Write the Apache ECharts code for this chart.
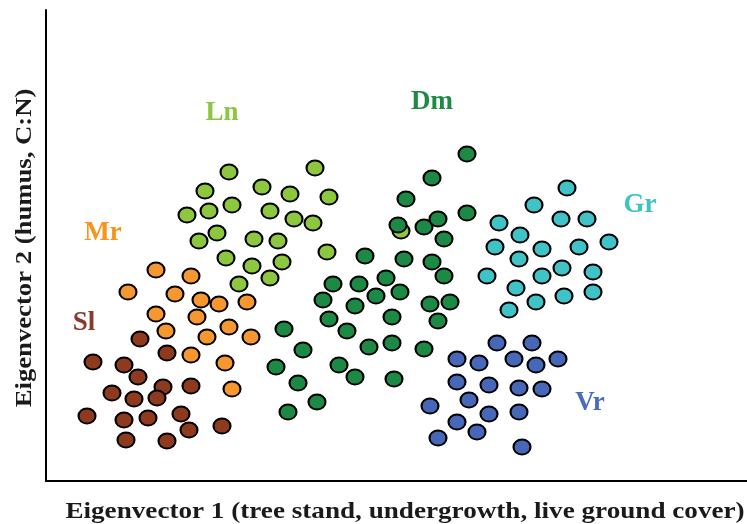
<!DOCTYPE html>
<html><head><meta charset="utf-8">
<script src="https://cdn.jsdelivr.net/npm/echarts@6/dist/echarts.min.js"></script>
<style>html,body{margin:0;padding:0;background:#fff}#c{width:747px;height:524px}</style>
</head><body><div id="c"></div>
<script>
const groupNames = ['Sl','Mr','Ln','Dm','Gr','Vr'];
const Sl = [[94,142],[121,128],[47,119],[78,116],[92,104],[117,94],[145,95],[66,88],[88,82],[111,83],[41,65],[78,61],[102,63],[135,67],[176,55],[143,51],[80,41],[121,40]];
const Mr = [[110,211],[145,205],[82,189],[129,187],[155,181],[173,177],[201,179],[110,167],[151,164],[120,150],[161,144],[183,154],[205,144],[145,126],[179,118],[186,92]];
const Ln = [[183,309],[269,313],[159,290],[216,294],[244,287],[283,284],[141,266],[163,270],[186,276],[224,270],[248,262],[267,258],[171,248],[153,240],[208,242],[232,240],[281,229],[180,223],[206,215],[236,219],[193,197],[224,203],[355,250]];
const Dm = [[421,327],[386,303],[360,282],[421,268],[352,256],[378,254],[392,262],[398,242],[319,225],[358,222],[386,219],[398,205],[287,197],[313,197],[340,203],[330,185],[354,189],[277,181],[309,175],[384,177],[404,179],[283,162],[346,164],[392,160],[301,150],[238,152],[257,131],[323,134],[346,138],[378,132],[230,114],[293,116],[309,104],[348,102],[252,98],[271,79],[242,69]];
const Gr = [[521,293],[488,276],[515,262],[541,262],[453,258],[474,246],[563,239],[449,234],[496,232],[533,234],[473,222],[516,213],[441,205],[496,205],[547,209],[470,193],[518,185],[547,189],[490,179],[463,171]];
const Vr = [[451,138],[486,138],[411,122],[433,118],[468,122],[490,116],[512,122],[411,99],[443,96],[473,93],[496,92],[384,75],[423,81],[443,67],[473,69],[411,59],[431,49],[392,43],[476,34]];
const labelPos = {Sl:[38,158], Mr:[57,248], Ln:[176,368], Dm:[386,379], Gr:[594,276], Vr:[544,78]};
const xTitle = 'Eigenvector 1 (tree stand, undergrowth, live ground cover)';
const yTitle = 'Eigenvector 2 (humus, C:N)';

const fill = {Sl:'#8E3A1F', Mr:'#F7972F', Ln:'#8DC63F', Dm:'#1C8A45', Gr:'#40C3C6', Vr:'#4768B8'};
const txt = {Sl:'#8B3A2A', Mr:'#F7941D', Ln:'#8DC63F', Dm:'#1E8B45', Gr:'#3CC4C4', Vr:'#4A6CC0'};
const data = {Sl, Mr, Ln, Dm, Gr, Vr};
const order = ['Ln','Mr','Sl','Dm','Gr','Vr'];

const series = order.map(n => ({
  name: n, type: 'scatter', data: data[n], symbol: 'circle', symbolSize: [17, 15],
  itemStyle: {color: fill[n], borderColor: '#000', borderWidth: 2, opacity: 1},
  emphasis: {disabled: true}, z: 2
}));
series.push({
  type: 'scatter', symbolSize: 0, silent: true, z: 3,
  itemStyle: {opacity: 1},
  data: groupNames.map(n => ({value: labelPos[n], name: n,
    label: {show: true, position: 'inside', formatter: n, color: txt[n], opacity: 1,
      fontFamily: 'Liberation Serif', fontWeight: 'bold', fontSize: 27}}))
});

const titleStyle = {fontFamily: 'Liberation Serif', fontWeight: 'bold', fontSize: 23, fill: '#1a1a1a', align: 'center', verticalAlign: 'middle'};

const chart = echarts.init(document.getElementById('c'), null, {renderer: 'canvas'});
chart.setOption({
  animation: false,
  backgroundColor: '#fff',
  grid: {left: 46, right: 0, top: 10, bottom: 43, containLabel: false, outerBoundsMode: 'none'},
  xAxis: {type: 'value', min: 0, max: 701,
    axisLine: {show: true, lineStyle: {color: '#000', width: 2}}, axisTick: {show: false},
    axisLabel: {show: false}, splitLine: {show: false}},
  yAxis: {type: 'value', min: 0, max: 471,
    axisLine: {show: true, lineStyle: {color: '#000', width: 2}}, axisTick: {show: false},
    axisLabel: {show: false}, splitLine: {show: false}},
  graphic: [
    {type: 'text', x: 405, y: 512, scaleX: 1.18, scaleY: 1, silent: true,
      style: Object.assign({text: xTitle}, titleStyle)},
    {type: 'text', x: 25, y: 248, rotation: Math.PI / 2, scaleX: 1.16, scaleY: 1, silent: true,
      style: Object.assign({text: yTitle}, titleStyle)}
  ],
  series
});
</script></body></html>
